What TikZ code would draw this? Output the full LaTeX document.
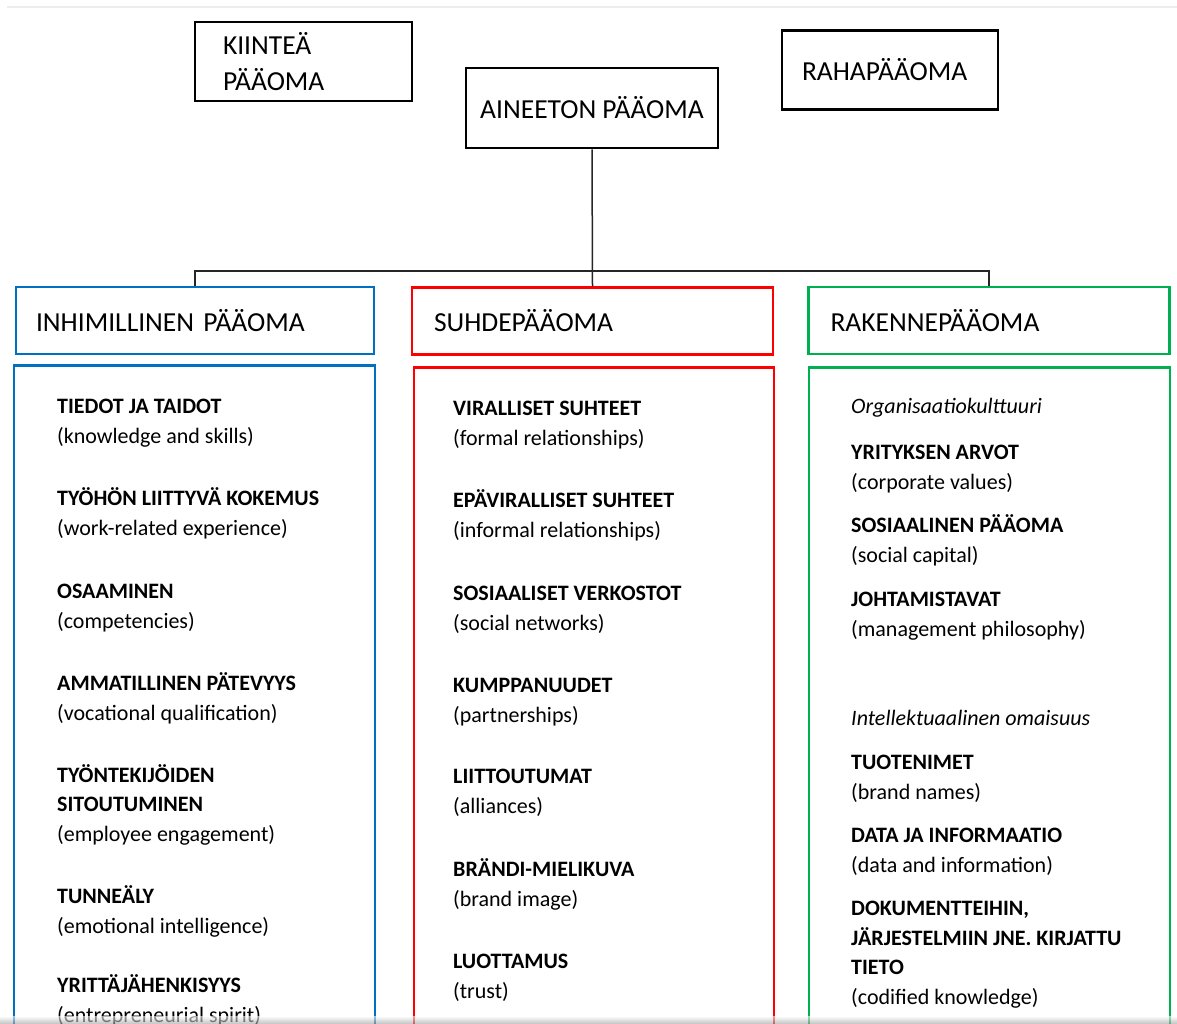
\documentclass[tikz,border=0pt]{standalone}
\usepackage{fontspec}
\setmainfont{Carlito}
\usetikzlibrary{positioning}
\definecolor{InhBlue}{RGB}{0,112,192}
\definecolor{SuhRed}{RGB}{255,0,0}
\definecolor{RakGreen}{RGB}{0,176,80}
\newcommand{\hdrfont}{\fontsize{27.5}{36}\selectfont}
\newcommand{\itemfont}{\fontsize{22}{29.5}\selectfont}

\begin{document}
\begin{tikzpicture}[
        x=1pt, y=-1pt,
        topbox/.style={draw, line width=2.8pt, font=\hdrfont, minimum height=79pt},
        hdrbox/.style={draw=#1, line width=2.5pt, font=\hdrfont, minimum height=67pt, text width=317pt, inner xsep=22pt, align=left},
        bodybox/.style={draw=#1, line width=2.5pt, minimum width=361pt, minimum height=720pt, anchor=north},
        item/.style={font=\itemfont, align=left, anchor=base west, inner sep=0pt},
        conn/.style={draw=black!85, line width=1.5pt}
    ]
        \useasboundingbox (0,0) rectangle (1177,1023);
        \fill[white] (0,0) rectangle (1177,1023);
        \clip (0,0) rectangle (1177,1023);
        \draw[black!7, line width=1.5pt] (7,7) -- (1177,7);

        % top level
        \node[topbox, minimum width=217pt, text width=161pt, inner xsep=28pt, align=left] (kiintea) at (303.5,61.5) {KIINTEÄ\\PÄÄOMA};
        \node[topbox, minimum width=252pt, minimum height=80pt] (aineeton) at (592,108) {AINEETON PÄÄOMA};
        \node[topbox, text width=176pt, inner xsep=20pt, align=left] (raha) at (890,70) {RAHAPÄÄOMA};

        % the three parts
        \node[hdrbox=InhBlue, text width=318pt, inner xsep=20pt] (inh) at (195,320.5) {INHIMILLINEN PÄÄOMA};
        \node[hdrbox=SuhRed] (suh) at (592.5,321) {SUHDEPÄÄOMA};
        \node[hdrbox=RakGreen] (rak) at (989,320.5) {RAKENNEPÄÄOMA};

        \coordinate (fork) at (592.5,271);
        \draw[conn] (aineeton.south) -- (suh.north);
        \draw[conn] (inh.north) |- (fork) -| (rak.north);

        \node[bodybox=InhBlue] (inhbody) at (194.5,364) {};
        \node[bodybox=SuhRed, minimum width=360pt] (suhbody) at (594,366) {};
        \node[bodybox=RakGreen] (rakbody) at (989.5,366) {};

        % inhimillinen (base = last line)
        \node[item] (h1) at (57,443) {\textbf{TIEDOT JA TAIDOT}\\(knowledge and skills)};
        \node[item] (h2) at (57,535) {\textbf{TYÖHÖN LIITTYVÄ KOKEMUS}\\(work-related experience)};
        \node[item] (h3) at (57,628) {\textbf{OSAAMINEN}\\(competencies)};
        \node[item] (h4) at (57,720) {\textbf{AMMATILLINEN PÄTEVYYS}\\(vocational qualification)};
        \node[item] (h5) at (57,841) {\textbf{TYÖNTEKIJÖIDEN}\\\textbf{SITOUTUMINEN}\\(employee engagement)};
        \node[item] (h6) at (57,933) {\textbf{TUNNEÄLY}\\(emotional intelligence)};
        \node[item] (h7) at (57,1022) {\textbf{YRITTÄJÄHENKISYYS}\\(entrepreneurial spirit)};

        % suhde
        \node[item] (s1) at (453,445) {\textbf{VIRALLISET SUHTEET}\\(formal relationships)};
        \node[item] (s2) at (453,537) {\textbf{EPÄVIRALLISET SUHTEET}\\(informal relationships)};
        \node[item] (s3) at (453,630) {\textbf{SOSIAALISET VERKOSTOT}\\(social networks)};
        \node[item] (s4) at (453,722) {\textbf{KUMPPANUUDET}\\(partnerships)};
        \node[item] (s5) at (453,813) {\textbf{LIITTOUTUMAT}\\(alliances)};
        \node[item] (s6) at (453,906) {\textbf{BRÄNDI-MIELIKUVA}\\(brand image)};
        \node[item] (s7) at (453,998) {\textbf{LUOTTAMUS}\\(trust)};

        % rakenne
        \node[item] (r0) at (851,413) {\textit{Organisaatiokulttuuri}};
        \node[item] (r1) at (851,489) {\textbf{YRITYKSEN ARVOT}\\(corporate values)};
        \node[item] (r2) at (851,562) {\textbf{SOSIAALINEN PÄÄOMA}\\(social capital)};
        \node[item] (r3) at (851,636) {\textbf{JOHTAMISTAVAT}\\(management philosophy)};
        \node[item] (r4) at (851,725) {\textit{Intellektuaalinen omaisuus}};
        \node[item] (r5) at (851,799) {\textbf{TUOTENIMET}\\(brand names)};
        \node[item] (r6) at (851,872) {\textbf{DATA JA INFORMAATIO}\\(data and information)};
        \node[item] (r7) at (851,1004) {\textbf{DOKUMENTTEIHIN,}\\\textbf{JÄRJESTELMIIN JNE. KIRJATTU}\\\textbf{TIETO}\\(codified knowledge)};

        \shade[top color=white, bottom color=black!35, opacity=0.6] (0,1016) rectangle (1177,1023);
    \end{tikzpicture}
\end{document}
